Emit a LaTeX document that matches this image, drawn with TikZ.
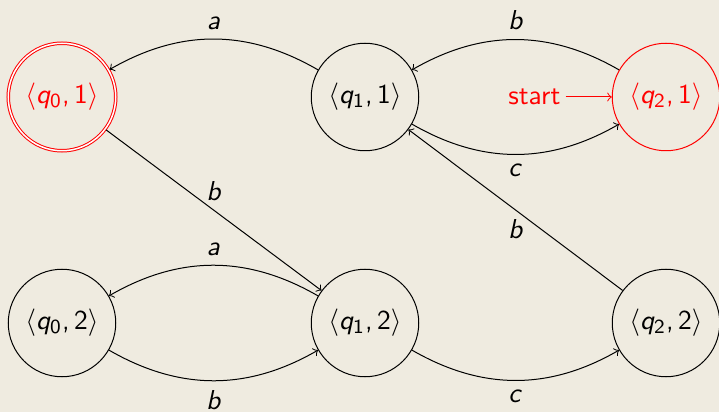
\documentclass[tikz,border=0pt,11pt]{standalone}
\usetikzlibrary{automata}
\DeclareSymbolFont{sfletters}{OT1}{cmss}{m}{sl}
\DeclareSymbolFont{sfdigits}{OT1}{cmss}{m}{n}
\DeclareMathSymbol{a}{\mathalpha}{sfletters}{`a}
\DeclareMathSymbol{b}{\mathalpha}{sfletters}{`b}
\DeclareMathSymbol{c}{\mathalpha}{sfletters}{`c}
\DeclareMathSymbol{q}{\mathalpha}{sfletters}{`q}
\DeclareMathSymbol{0}{\mathalpha}{sfdigits}{`0}
\DeclareMathSymbol{1}{\mathalpha}{sfdigits}{`1}
\DeclareMathSymbol{2}{\mathalpha}{sfdigits}{`2}
\DeclareMathSymbol{,}{\mathpunct}{sfdigits}{`,}
\definecolor{bg}{RGB}{239,235,224}
\renewcommand{\familydefault}{\sfdefault}
\begin{document}
\begin{tikzpicture}[x=0.4pt,y=-0.4pt,>=to,
  every state/.style={draw,minimum size=43pt,inner sep=0pt},
  every initial by arrow/.style={red},
  initial text={start\kern-1.8pt}, initial distance=18.5pt]
\fill[bg] (0,0) rectangle (719,412);
\useasboundingbox (0,0) rectangle (719,412);
\node[state,accepting,red] (q01) at (62,97) {$\langle q_0,1\rangle$};
\node[state] (q11) at (365,97) {$\langle q_1,1\rangle$};
\node[state,initial,red] (q21) at (666,97) {$\langle q_2,1\rangle$};
\node[state] (q02) at (62,323) {$\langle q_0,2\rangle$};
\node[state] (q12) at (365,323) {$\langle q_1,2\rangle$};
\node[state] (q22) at (666,323) {$\langle q_2,2\rangle$};
\path[->]
  (q11) edge[bend right] node[above] {$a$} (q01)
  (q21) edge[bend right] node[above] {$b$} (q11)
  (q11) edge[bend right] node[below] {$c$} (q21)
  (q01) edge node[above] {$b$} (q12)
  (q22) edge node[below] {$b$} (q11)
  (q12) edge[bend right] node[above] {$a$} (q02)
  (q02) edge[bend right] node[below] {$b$} (q12)
  (q12) edge[bend right] node[below] {$c$} (q22);
\end{tikzpicture}
\end{document}
